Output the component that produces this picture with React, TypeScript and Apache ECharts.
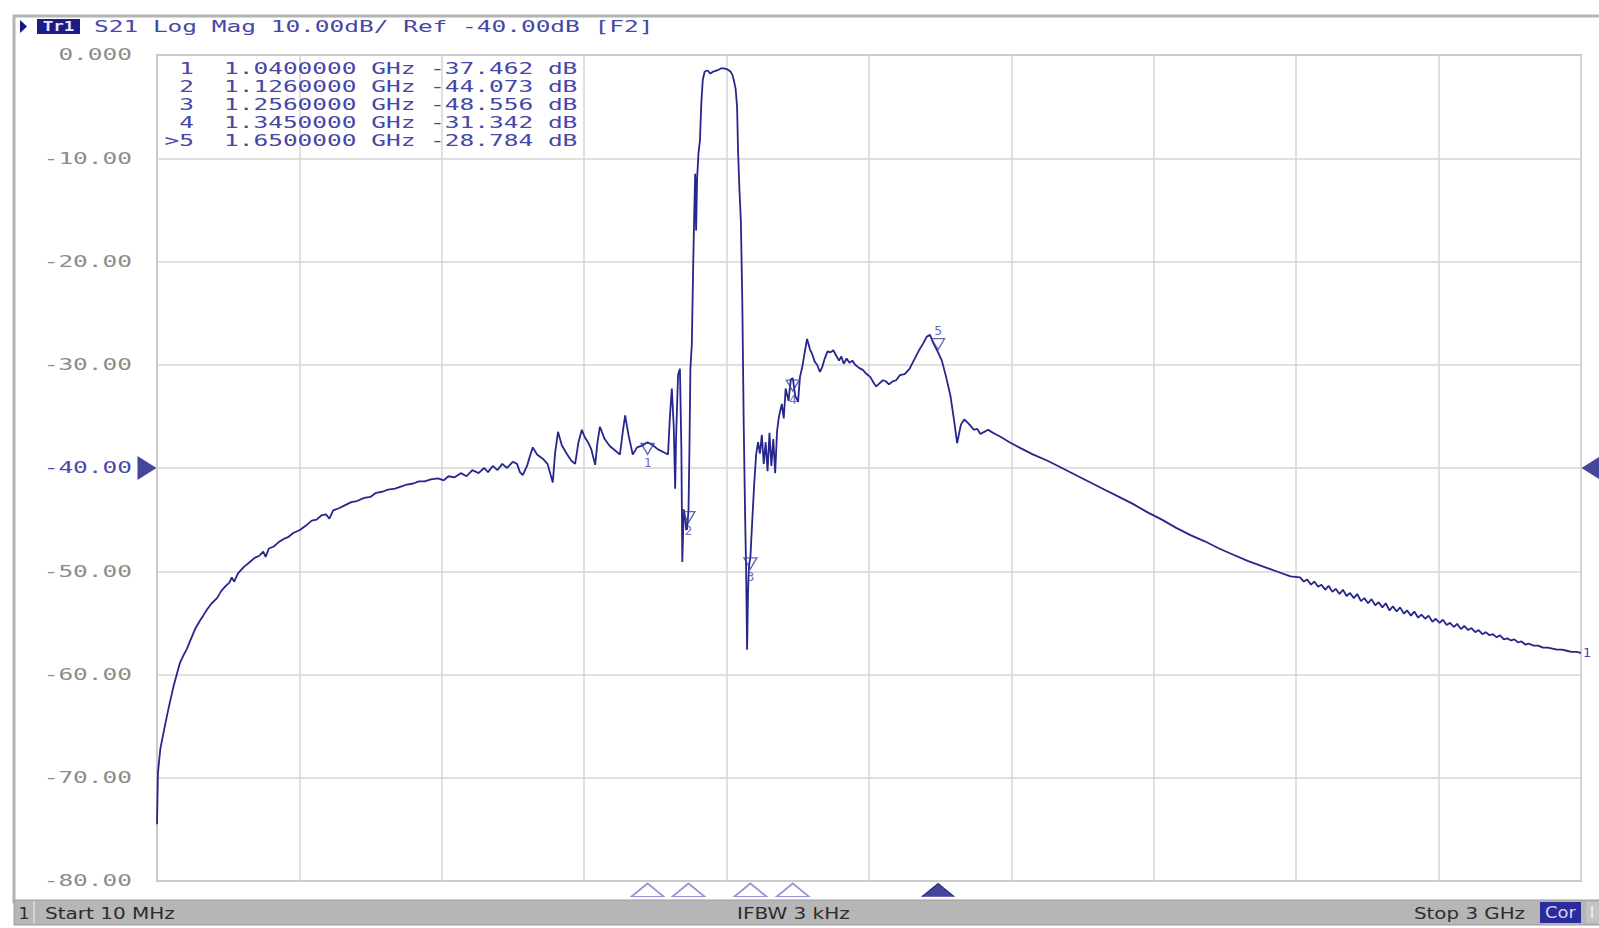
import React, { useEffect, useRef } from "react";
import * as echarts from "echarts";

// ---------- data ----------
const START_GHZ = 0.01;
const STOP_GHZ = 3.0;
const REF_DB = -40;

const HEADER_TRACE = "Tr1";
const HEADER_TITLE = "S21 Log Mag 10.00dB/ Ref -40.00dB [F2]";
const STATUS_CHANNEL = "1";
const STATUS_START = "Start 10 MHz";
const STATUS_IFBW = "IFBW 3 kHz";
const STATUS_STOP = "Stop 3 GHz";
const STATUS_COR = "Cor";

const Y_TICK_VALUES = [0, -10, -20, -30, -40, -50, -60, -70, -80];
const Y_TICK_LABELS = ["0.000", "-10.00", "-20.00", "-30.00", "-40.00", "-50.00", "-60.00", "-70.00", "-80.00"];

const MARKER_IDS = ["1", "2", "3", "4", ">5"];
const MARKER_NUMS = ["1", "2", "3", "4", "5"];
const MARKER_FREQ_GHZ = [1.04, 1.126, 1.256, 1.345, 1.65];
const MARKER_DB = [-37.462, -44.073, -48.556, -31.342, -28.784];
const ACTIVE_MARKER = 4;

// [frequency GHz, S21 dB]
const TRACE_POINTS: [number, number][] = [
  [0.010, -74.5], [0.012, -69.5], [0.017, -67.2], [0.023, -65.8], [0.030, -64.2], [0.037, -62.7],
  [0.045, -61.1], [0.052, -59.9], [0.058, -58.9], [0.065, -58.2], [0.073, -57.5], [0.080, -56.7],
  [0.090, -55.6], [0.100, -54.8], [0.107, -54.3], [0.115, -53.7], [0.125, -53.1], [0.136, -52.6],
  [0.145, -51.9], [0.155, -51.4], [0.162, -51.1], [0.167, -50.6], [0.172, -51.0], [0.180, -50.2],
  [0.192, -49.6], [0.205, -49.1], [0.215, -48.7], [0.225, -48.5], [0.233, -48.1], [0.238, -48.6],
  [0.245, -47.8], [0.255, -47.6], [0.265, -47.2], [0.275, -46.9], [0.285, -46.7], [0.296, -46.3],
  [0.310, -46.0], [0.322, -45.6], [0.335, -45.1], [0.345, -45.0], [0.355, -44.6], [0.365, -44.5],
  [0.372, -44.9], [0.380, -44.1], [0.392, -43.9], [0.405, -43.6], [0.418, -43.3], [0.430, -43.2],
  [0.445, -42.9], [0.458, -42.8], [0.470, -42.4], [0.483, -42.3], [0.495, -42.1], [0.510, -42.0],
  [0.522, -41.8], [0.535, -41.6], [0.548, -41.5], [0.560, -41.3], [0.572, -41.3], [0.585, -41.1],
  [0.600, -41.0], [0.612, -41.2], [0.622, -40.8], [0.635, -40.9], [0.648, -40.5], [0.660, -40.8],
  [0.672, -40.2], [0.685, -40.5], [0.697, -40.0], [0.705, -40.4], [0.715, -39.8], [0.725, -40.2],
  [0.735, -39.6], [0.745, -40.0], [0.757, -39.4], [0.766, -39.6], [0.772, -40.4], [0.778, -40.7],
  [0.787, -39.8], [0.792, -39.0], [0.799, -38.0], [0.808, -38.7], [0.820, -39.1], [0.830, -39.6],
  [0.841, -41.4], [0.846, -38.5], [0.852, -36.5], [0.860, -37.8], [0.870, -38.6], [0.880, -39.3],
  [0.888, -39.6], [0.895, -37.5], [0.902, -36.3], [0.908, -37.0], [0.915, -37.5], [0.922, -38.2],
  [0.930, -39.7], [0.935, -37.5], [0.940, -36.0], [0.950, -37.2], [0.961, -37.9], [0.972, -38.3],
  [0.982, -38.7], [0.988, -36.5], [0.993, -34.9], [1.000, -36.8], [1.009, -38.7], [1.018, -38.0],
  [1.030, -37.8], [1.040, -37.5], [1.051, -37.8], [1.062, -38.2], [1.075, -38.5], [1.083, -38.7],
  [1.087, -35.0], [1.091, -32.3], [1.095, -36.0], [1.098, -42.0], [1.100, -37.0], [1.104, -31.0],
  [1.108, -30.4], [1.111, -38.0], [1.113, -49.1], [1.116, -44.0], [1.119, -44.8], [1.121, -46.0],
  [1.123, -45.9], [1.126, -44.1], [1.128, -38.0], [1.130, -30.4], [1.133, -28.0], [1.136, -20.0],
  [1.138, -15.5], [1.140, -11.5], [1.142, -17.0], [1.144, -12.0], [1.147, -9.5], [1.150, -8.3],
  [1.153, -4.6], [1.156, -2.4], [1.160, -1.6], [1.166, -1.5], [1.172, -1.8], [1.178, -1.6],
  [1.186, -1.5], [1.194, -1.3], [1.200, -1.3], [1.208, -1.4], [1.214, -1.6], [1.218, -1.9],
  [1.222, -2.6], [1.225, -3.3], [1.228, -5.0], [1.230, -9.2], [1.233, -13.1], [1.236, -16.1],
  [1.239, -24.0], [1.242, -36.0], [1.245, -45.0], [1.247, -50.0], [1.249, -57.6], [1.251, -52.0],
  [1.253, -49.5], [1.256, -48.6], [1.260, -45.0], [1.264, -41.5], [1.268, -38.7], [1.272, -37.5],
  [1.276, -38.6], [1.280, -36.8], [1.284, -39.6], [1.288, -37.5], [1.292, -40.3], [1.296, -36.6],
  [1.300, -39.8], [1.304, -37.2], [1.308, -40.5], [1.312, -36.4], [1.316, -35.0], [1.322, -33.8],
  [1.326, -35.2], [1.330, -32.3], [1.336, -33.5], [1.341, -31.4], [1.345, -31.3], [1.350, -33.0],
  [1.356, -33.6], [1.360, -31.2], [1.365, -30.2], [1.370, -28.8], [1.375, -27.5], [1.381, -28.5],
  [1.386, -29.0], [1.391, -29.7], [1.396, -30.0], [1.402, -30.7], [1.407, -30.2], [1.412, -29.4],
  [1.418, -28.7], [1.424, -28.8], [1.430, -28.6], [1.436, -29.1], [1.442, -29.6], [1.447, -29.2],
  [1.452, -29.9], [1.458, -29.4], [1.464, -29.8], [1.470, -29.6], [1.476, -30.0], [1.484, -30.3],
  [1.492, -30.5], [1.500, -30.9], [1.508, -31.2], [1.514, -31.7], [1.520, -32.1], [1.527, -31.8],
  [1.534, -31.5], [1.540, -31.6], [1.547, -31.9], [1.555, -31.6], [1.562, -31.5], [1.570, -31.0],
  [1.580, -30.9], [1.590, -30.4], [1.600, -29.5], [1.610, -28.6], [1.618, -28.0], [1.626, -27.3],
  [1.633, -27.1], [1.640, -27.9], [1.650, -28.8], [1.658, -29.6], [1.667, -31.2], [1.676, -33.0],
  [1.684, -35.5], [1.690, -37.6], [1.694, -36.7], [1.698, -35.8], [1.705, -35.3], [1.712, -35.6],
  [1.718, -35.9], [1.725, -36.3], [1.732, -36.2], [1.739, -36.7], [1.747, -36.5], [1.755, -36.3],
  [1.762, -36.5], [1.770, -36.7], [1.782, -37.0], [1.800, -37.5], [1.820, -38.0], [1.850, -38.7],
  [1.880, -39.3], [1.910, -40.0], [1.940, -40.7], [1.970, -41.4], [2.000, -42.1], [2.030, -42.8],
  [2.060, -43.5], [2.090, -44.3], [2.120, -45.0], [2.150, -45.8], [2.180, -46.5], [2.210, -47.1],
  [2.240, -47.8], [2.270, -48.4], [2.300, -49.0], [2.330, -49.5], [2.360, -50.0], [2.390, -50.5],
  [2.410, -50.6], [2.418, -51.0], [2.425, -50.8], [2.433, -51.3], [2.440, -51.0], [2.448, -51.5],
  [2.455, -51.3], [2.463, -51.8], [2.470, -51.4], [2.478, -52.0], [2.485, -51.7], [2.493, -52.2],
  [2.500, -51.8], [2.508, -52.4], [2.515, -52.1], [2.523, -52.6], [2.530, -52.2], [2.538, -52.9],
  [2.545, -52.6], [2.553, -53.1], [2.560, -52.7], [2.568, -53.3], [2.575, -53.0], [2.583, -53.5],
  [2.590, -53.1], [2.598, -53.8], [2.605, -53.4], [2.613, -53.9], [2.620, -53.5], [2.628, -54.1],
  [2.635, -53.8], [2.643, -54.3], [2.650, -53.9], [2.658, -54.5], [2.665, -54.2], [2.673, -54.6],
  [2.680, -54.3], [2.688, -54.9], [2.695, -54.6], [2.703, -55.0], [2.710, -54.7], [2.718, -55.2],
  [2.725, -55.0], [2.733, -55.4], [2.740, -55.1], [2.748, -55.6], [2.755, -55.3], [2.763, -55.7],
  [2.770, -55.5], [2.778, -55.9], [2.785, -55.7], [2.793, -56.1], [2.800, -55.9], [2.808, -56.2],
  [2.815, -56.1], [2.823, -56.4], [2.830, -56.2], [2.838, -56.6], [2.845, -56.5], [2.853, -56.7],
  [2.860, -56.6], [2.868, -56.9], [2.875, -56.8], [2.883, -57.1], [2.890, -57.0], [2.900, -57.2],
  [2.910, -57.2], [2.920, -57.4], [2.930, -57.4], [2.940, -57.5], [2.950, -57.6], [2.960, -57.6],
  [2.970, -57.7], [2.980, -57.8], [2.990, -57.8], [3.000, -57.9],
];

// ---------- styles ----------
const MONO = '"DejaVu Sans Mono", "Liberation Mono", monospace';
const SANS = '"DejaVu Sans", "Liberation Sans", sans-serif';
const SX = 1.53;
const TRACE_COLOR = "#26268c";
const TEXT_BLUE = "#4646a8";
const NAVY = "#16167f";

function txt(x: number, y: number, text: string, o: any = {}) {
  const align = o.align ?? "left";
  return {
    type: "text",
    x,
    y,
    scaleX: o.scaleX ?? SX,
    silent: true,
    z: 100,
    style: {
      text,
      fill: o.color ?? TEXT_BLUE,
      fontSize: o.size ?? 16,
      fontFamily: o.family ?? MONO,
      fontWeight: o.weight ?? "normal",
      align,
      textAlign: align,
      verticalAlign: "middle",
      textVerticalAlign: "middle",
    },
  };
}

function buildOption() {
  const span = STOP_GHZ - START_GHZ;
  return {
    animation: false,
    backgroundColor: "#ffffff",
    grid: {
      left: 157,
      right: 18,
      top: 55,
      bottom: 47,
      show: true,
      backgroundColor: "#ffffff",
      borderColor: "#a9a9a9",
      borderWidth: 2,
    },
    xAxis: [
      {
        type: "value",
        min: START_GHZ,
        max: STOP_GHZ,
        axisLine: { show: false },
        axisTick: { show: false },
        axisLabel: { show: false },
        splitLine: { show: false },
      },
      {
        type: "value",
        min: 0,
        max: span,
        interval: span / 10,
        axisLine: { show: false },
        axisTick: { show: false },
        axisLabel: { show: false },
        splitLine: { show: true, lineStyle: { color: "#d6d6d6", width: 1.5 } },
      },
    ],
    yAxis: {
      type: "value",
      min: -80,
      max: 0,
      interval: 10,
      axisLine: { show: false },
      axisTick: { show: false },
      axisLabel: { show: false },
      splitLine: { show: true, lineStyle: { color: "#d6d6d6", width: 1.5 } },
    },
    series: [
      {
        type: "line",
        xAxisIndex: 0,
        data: TRACE_POINTS,
        showSymbol: false,
        symbol: "none",
        lineStyle: { color: TRACE_COLOR, width: 1.8 },
        z: 3,
        endLabel: {
          show: true,
          formatter: "1",
          color: TEXT_BLUE,
          fontFamily: MONO,
          fontSize: 13,
          distance: 2,
        },
      },
      {
        // marker glyphs on the trace
        type: "scatter",
        xAxisIndex: 0,
        z: 4,
        data: MARKER_FREQ_GHZ.map((f, i) => ({
          value: [f, MARKER_DB[i]],
          symbolOffset: i === ACTIVE_MARKER ? [0, -8] : [0, 7],
          label: {
            show: true,
            formatter: MARKER_NUMS[i],
            position: i === ACTIVE_MARKER ? "top" : "bottom",
            distance: 1,
            color: TEXT_BLUE,
            fontFamily: MONO,
            fontSize: 13,
          },
        })),
        symbol: "triangle",
        symbolRotate: 180,
        symbolSize: [13, 11],
        itemStyle: { color: "rgba(255,255,255,0)", borderColor: "#3c3ca4", borderWidth: 1.3 },
      },
      {
        // marker tabs under the graticule
        type: "scatter",
        xAxisIndex: 0,
        clip: false,
        z: 4,
        symbol: "triangle",
        symbolSize: [32, 13],
        data: MARKER_FREQ_GHZ.map((f, i) => ({
          value: [f, -80],
          symbolOffset: [0, 9],
          itemStyle:
            i === ACTIVE_MARKER
              ? { color: NAVY, borderColor: NAVY, borderWidth: 1 }
              : { color: "#ffffff", borderColor: "#7a7ac6", borderWidth: 1.6 },
        })),
      },
      {
        // reference level arrows
        type: "scatter",
        xAxisIndex: 0,
        clip: false,
        z: 4,
        symbol: "triangle",
        symbolSize: [24, 19],
        itemStyle: { color: NAVY },
        data: [
          { value: [START_GHZ, REF_DB], symbolRotate: -90, symbolOffset: [-10, 0] },
          { value: [STOP_GHZ, REF_DB], symbolRotate: 90, symbolOffset: [10, 0] },
        ],
      },
    ],
  };
}

function buildGraphic(yPix: (v: number) => number) {
  const els: any[] = [];
  // outer instrument frame
  els.push({
    type: "rect",
    silent: true,
    z: 90,
    shape: { x: 14, y: 16, width: 1600, height: 886 },
    style: { fill: "none", stroke: "#b4b4b4", lineWidth: 3 },
  });
  // header
  els.push({
    type: "polygon",
    silent: true,
    z: 100,
    shape: { points: [[20, 20], [27, 26.5], [20, 33]] },
    style: { fill: NAVY },
  });
  els.push({
    type: "rect",
    silent: true,
    z: 99,
    shape: { x: 37, y: 19, width: 43, height: 15 },
    style: { fill: "#1c1c86" },
  });
  els.push(txt(58.5, 26.5, HEADER_TRACE, { align: "center", color: "#e8e8ff", size: 14, weight: "bold", scaleX: 1.25 }));
  els.push(txt(94, 27, HEADER_TITLE, { color: TEXT_BLUE }));

  // y tick labels
  Y_TICK_VALUES.forEach((v, i) => {
    els.push(
      txt(132, yPix(v), Y_TICK_LABELS[i], {
        align: "right",
        color: v === REF_DB ? "#4a4aaa" : "#8c8c8c",
      })
    );
  });

  // marker table
  MARKER_IDS.forEach((id, i) => {
    const y = 69 + i * 17.9;
    els.push(txt(194, y, id, { align: "right", color: TEXT_BLUE }));
    els.push(
      txt(224, y, `${MARKER_FREQ_GHZ[i].toFixed(7)} GHz ${MARKER_DB[i].toFixed(3)} dB`, { color: TEXT_BLUE })
    );
  });

  // status bar
  els.push({
    type: "rect",
    silent: true,
    z: 95,
    shape: { x: 14, y: 900, width: 1590, height: 25 },
    style: { fill: "#b6b6b6", stroke: "#9c9c9c", lineWidth: 1 },
  });
  els.push({
    type: "line",
    silent: true,
    z: 96,
    shape: { x1: 34, y1: 901, x2: 34, y2: 924 },
    style: { stroke: "#dedede", lineWidth: 1.5 },
  });
  els.push(txt(24, 913, STATUS_CHANNEL, { align: "center", family: SANS, color: "#2c2c2c", size: 16, scaleX: 1.1 }));
  els.push(txt(45, 913, STATUS_START, { family: SANS, color: "#2c2c2c", size: 16, scaleX: 1.25 }));
  els.push(txt(737, 913, STATUS_IFBW, { family: SANS, color: "#2c2c2c", size: 16, scaleX: 1.25 }));
  els.push(txt(1525, 913, STATUS_STOP, { align: "right", family: SANS, color: "#2c2c2c", size: 16, scaleX: 1.24 }));
  els.push({
    type: "rect",
    silent: true,
    z: 97,
    shape: { x: 1540, y: 902, width: 41, height: 21 },
    style: { fill: "#2b2b9b" },
  });
  els.push(txt(1560.5, 913, STATUS_COR, { align: "center", family: SANS, color: "#d4d4fa", size: 15, scaleX: 1.2 }));
  els.push({
    type: "rect",
    silent: true,
    z: 97,
    shape: { x: 1586, y: 902, width: 14, height: 21 },
    style: { fill: "#c4c4c4" },
  });
  els.push(txt(1592, 913, "I", { align: "center", family: SANS, color: "#f4f4f4", size: 15, scaleX: 1 }));
  return els;
}

export default function App() {
  const ref = useRef<HTMLDivElement>(null);
  useEffect(() => {
    if (!ref.current) return;
    const chart = echarts.init(ref.current, null, { renderer: "svg" });
    chart.setOption(buildOption() as any);
    const yPix = (v: number) => chart.convertToPixel({ yAxisIndex: 0 }, v) as number;
    chart.setOption({ graphic: { elements: buildGraphic(yPix) } } as any);
    return () => chart.dispose();
  }, []);
  return (
    <div
      ref={ref}
      style={{ position: "fixed", left: 0, top: 0, width: 1599, height: 928, background: "#ffffff" }}
    />
  );
}
